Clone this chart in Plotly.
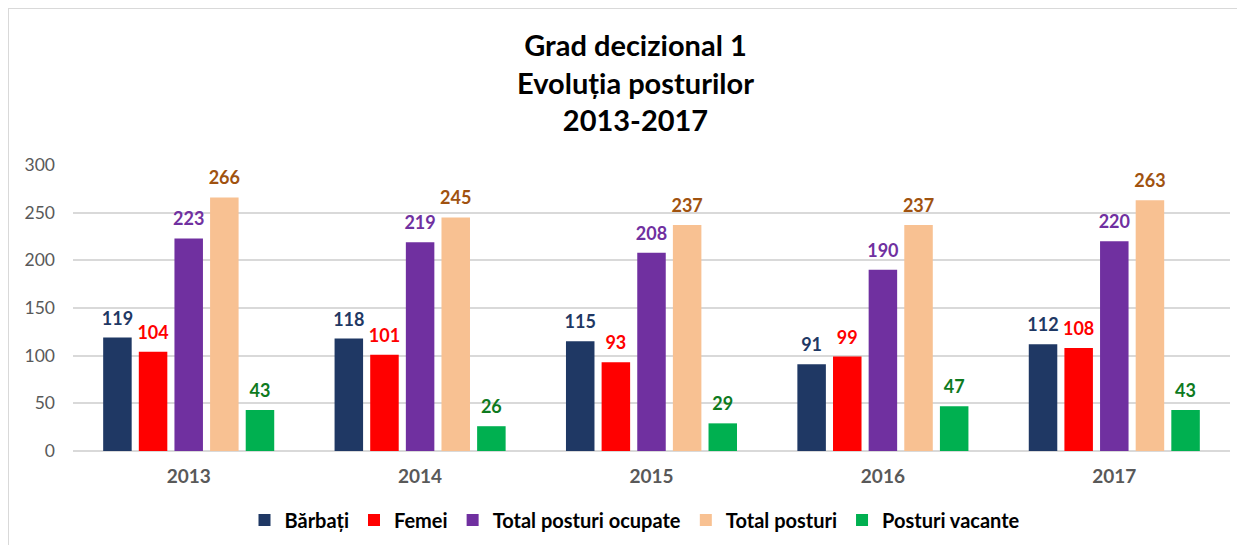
import plotly.graph_objects as go

years = ["2013", "2014", "2015", "2016", "2017"]
barbati = [119, 118, 115, 91, 112]
femei = [104, 101, 93, 99, 108]
total_ocupate = [223, 219, 208, 190, 220]
total_posturi = [266, 245, 237, 237, 263]
vacante = [43, 26, 29, 47, 43]

series = [
    ("Bărbați", barbati, "#1F3864", "#1F3864"),
    ("Femei", femei, "#FF0000", "#FF0000"),
    ("Total posturi ocupate", total_ocupate, "#7030A0", "#7030A0"),
    ("Total posturi", total_posturi, "#F8C192", "#A0520F"),
    ("Posturi vacante", vacante, "#00B050", "#0E7A1E"),
]

font_main = "Lato"

fig = go.Figure()
for i, (name, vals, col, tcol) in enumerate(series):
    fig.add_trace(go.Bar(
        x=years, y=vals, name=name, offsetgroup=str(i),
        marker=dict(color=col, line=dict(width=0)),
        hoverinfo="x+y+name",
    ))
for i, (name, vals, col, tcol) in enumerate(series):
    fig.add_trace(go.Scatter(
        x=years, y=vals, name=name, offsetgroup=str(i), showlegend=False,
        mode="markers+text", marker=dict(size=12, opacity=0),
        text=[str(v) for v in vals], textposition="top center",
        textfont=dict(color=tcol, size=18, family=font_main, weight="bold"),
        cliponaxis=False, hoverinfo="skip",
    ))

# page has 8px body margin; figure origin is at page (8, 8)
W, H = 1237, 537
L, R, T, B = 65, 15, 157, 94
pw, ph = W - L - R, H - T - B

fig.update_layout(
    width=W, height=H,
    margin=dict(l=L, r=R, t=T, b=B),
    paper_bgcolor="white", plot_bgcolor="white",
    barmode="group", bargap=0.23, bargroupgap=0.2,
    scattermode="group", scattergap=0.23,
    font=dict(family=font_main, color="#595959"),
    annotations=[dict(
        text="Grad decizional 1<br>Evoluția posturilor<br>2013-2017",
        xref="paper", yref="paper", x=(635 - 73) / pw, xanchor="center",
        y=1 + (T - 74) / ph, yanchor="middle", showarrow=False,
        font=dict(size=29, color="#000000", family=font_main, weight="bold"),
    )],
    legend=dict(orientation="h", x=(635 - 73) / pw, xanchor="center",
                xref="paper", yref="container", y=(H - 512) / H, yanchor="middle",
                font=dict(size=20, color="#000000", family=font_main, weight="bold"),
                itemwidth=30, traceorder="normal"),
    xaxis=dict(showgrid=False, showline=False, ticks="", ticklabelstandoff=12,
               tickfont=dict(size=19, color="#595959", family=font_main, weight="bold")),
    yaxis=dict(range=[0, 300], dtick=50, showgrid=True, gridcolor="#D9D9D9", gridwidth=1.5,
               zeroline=True, zerolinecolor="#D9D9D9", zerolinewidth=1.5,
               showline=False, ticks="", ticklabelstandoff=17,
               tickfont=dict(size=17.5, color="#595959", family=font_main)),
    shapes=[
        dict(type="line", xref="paper", yref="paper",
             x0=-L / pw, x1=-L / pw, y0=1 + T / ph, y1=-B / ph,
             line=dict(color="#D9D9D9", width=2)),
        dict(type="line", xref="paper", yref="paper",
             x0=-L / pw, x1=1 + R / pw, y0=1 + T / ph, y1=1 + T / ph,
             line=dict(color="#D9D9D9", width=2)),
    ],
)

fig.write_html("out.html")
